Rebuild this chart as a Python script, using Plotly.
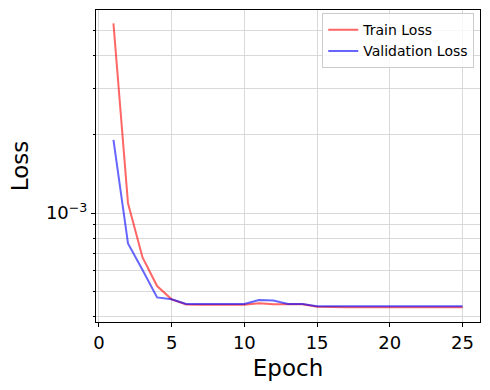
import plotly.graph_objects as go

epochs = list(range(1, 26))
train_loss = [5.33e-3, 1.09e-3, 6.76e-4, 5.25e-4, 4.67e-4, 4.46e-4, 4.45e-4, 4.45e-4, 4.45e-4, 4.45e-4,
              4.51e-4, 4.47e-4, 4.47e-4, 4.47e-4, 4.37e-4, 4.35e-4, 4.35e-4, 4.35e-4, 4.35e-4, 4.35e-4,
              4.35e-4, 4.35e-4, 4.35e-4, 4.35e-4, 4.35e-4]
val_loss = [1.905e-3, 7.65e-4, 6.05e-4, 4.75e-4, 4.67e-4, 4.48e-4, 4.48e-4, 4.48e-4, 4.48e-4, 4.48e-4,
            4.64e-4, 4.62e-4, 4.48e-4, 4.48e-4, 4.39e-4, 4.39e-4, 4.39e-4, 4.39e-4, 4.39e-4, 4.39e-4,
            4.40e-4, 4.39e-4, 4.39e-4, 4.39e-4, 4.39e-4]
x_ticks = [0, 5, 10, 15, 20, 25]
y_major = [1e-3]
y_major_text = ["10<sup>−3</sup>"]
y_minor = [4e-4, 5e-4, 6e-4, 7e-4, 8e-4, 9e-4, 2e-3, 3e-3, 4e-3, 5e-3]

FONT = "DejaVu Sans"

fig = go.Figure()
fig.add_trace(go.Scatter(x=epochs, y=train_loss, mode="lines", name="Train Loss",
                         line=dict(color="rgba(255,0,0,0.6)", width=2)))
fig.add_trace(go.Scatter(x=epochs, y=val_loss, mode="lines", name="Validation Loss",
                         line=dict(color="rgba(0,0,255,0.6)", width=2)))

fig.update_layout(
    width=490, height=390,
    margin=dict(l=96, r=10, t=10, b=68),
    paper_bgcolor="white", plot_bgcolor="white",
    font=dict(family=FONT, color="black"),
    showlegend=True,
    legend=dict(x=0.985, y=0.99, xanchor="right", yanchor="top",
                bgcolor="rgba(255,255,255,0.8)", bordercolor="#cccccc", borderwidth=1,
                font=dict(size=14, family=FONT), tracegroupgap=0),
)
fig.update_xaxes(
    range=[-0.2, 26.2], tickvals=x_ticks, ticks="outside", ticklen=4, tickwidth=1,
    tickcolor="black", tickfont=dict(size=18), showgrid=True, gridcolor="#d9d9d9",
    gridwidth=1, zeroline=False, showline=True, linecolor="black", linewidth=1, mirror=True,
    title=dict(text="Epoch", font=dict(size=23), standoff=8),
)
fig.update_yaxes(
    type="log", range=[-3.4176, -2.222], tickvals=y_major, ticktext=y_major_text,
    ticks="outside", ticklen=4, tickwidth=1, tickcolor="black", tickfont=dict(size=18),
    showgrid=True, gridcolor="#d9d9d9", gridwidth=1, zeroline=False,
    showline=True, linecolor="black", linewidth=1, mirror=True,
    minor=dict(tickvals=y_minor, ticks="outside", ticklen=2, tickcolor="black",
               showgrid=True, gridcolor="#d9d9d9", gridwidth=1),
    title=dict(text="Loss", font=dict(size=23), standoff=10),
)

fig.write_html("out.html")
